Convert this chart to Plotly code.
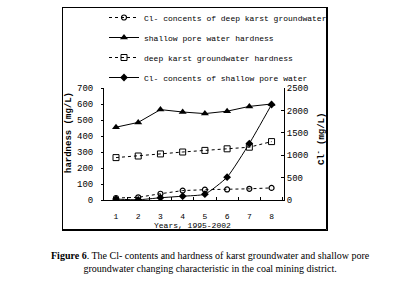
import plotly.graph_objects as go

years = ["1", "2", "3", "4", "5", "6", "7", "8"]
cl_deep_karst = [45, 60, 140, 210, 230, 235, 250, 270]
hardness_shallow_pore = [455, 485, 565, 550, 540, 555, 585, 600]
hardness_deep_karst = [265, 275, 288, 300, 310, 320, 330, 365]
cl_shallow_pore = [20, 5, 50, 85, 130, 510, 1260, 2130]

MONO = "Liberation Mono"
W, H = 394, 290
L, R, T, B = 104, 110, 88, 90
pw, ph = W - L - R, H - T - B

def px_x(x):
    return (x - L) / pw

def px_y(y):
    return (H - B - y) / ph

fig = go.Figure()
fig.add_trace(go.Scatter(
    x=years, y=cl_deep_karst, yaxis="y2", mode="lines+markers",
    name="Cl- concents of deep karst groundwater", legendgroup="a",
    line=dict(color="black", width=1, dash="dot"),
    marker=dict(symbol="circle-open", size=5, color="black", line=dict(width=1.2))))
fig.add_trace(go.Scatter(
    x=years, y=hardness_shallow_pore, mode="lines+markers",
    name="shallow pore water hardness", legendgroup="b",
    line=dict(color="black", width=1),
    marker=dict(symbol="triangle-up", size=7, color="black")))
fig.add_trace(go.Scatter(
    x=years, y=hardness_deep_karst, mode="lines+markers",
    name="deep karst groundwater hardness", legendgroup="c",
    line=dict(color="black", width=1, dash="dot"),
    marker=dict(symbol="square-open", size=6, color="black", line=dict(width=1))))
fig.add_trace(go.Scatter(
    x=years, y=cl_shallow_pore, yaxis="y2", mode="lines+markers",
    name="Cl- concents of shallow pore water", legendgroup="d",
    line=dict(color="black", width=1, shape="spline", smoothing=0.5),
    marker=dict(symbol="diamond", size=6, color="black")))

fig.update_layout(
    width=W, height=H,
    margin=dict(l=L, r=R, t=T, b=B, pad=0, autoexpand=False),
    paper_bgcolor="white", plot_bgcolor="white",
    font=dict(family=MONO, size=8, color="black"),
    showlegend=True,
    legend=dict(x=px_x(104), y=1 - 3 / H, yref="container", xanchor="left", yanchor="top",
                bgcolor="rgba(0,0,0,0)", font=dict(family=MONO, size=8),
                tracegroupgap=1, itemwidth=30),
    xaxis=dict(type="category", range=[-0.54, 7.56], showline=True,
               linecolor="black", linewidth=1, ticks="inside", ticklen=3,
               tickson="boundaries", tickcolor="black", showgrid=False,
               zeroline=False, ticklabelstandoff=8, automargin=False,
               tickfont=dict(family=MONO, size=8)),
    yaxis=dict(range=[0, 700], dtick=100, showline=True, linecolor="black",
               linewidth=1, ticks="outside", ticklen=2, tickcolor="black",
               showgrid=False, zeroline=False, ticklabelstandoff=6, automargin=False,
               tickfont=dict(family=MONO, size=9)),
    yaxis2=dict(range=[0, 2500], dtick=500, overlaying="y", side="right",
                showline=True, linecolor="black", linewidth=1, ticks="inside",
                ticklen=3, tickcolor="black", showgrid=False, zeroline=False,
                automargin=False, tickfont=dict(family=MONO, size=9)),
    shapes=[dict(type="rect", xref="paper", yref="paper", layer="above",
                 x0=px_x(62.5), x1=px_x(326.5), y0=px_y(229.5), y1=px_y(7.5),
                 line=dict(color="black", width=1), fillcolor="rgba(0,0,0,0)")],
    annotations=[
        dict(text="<b>hardness (mg/L)</b>", textangle=-90, xref="paper", yref="paper",
             x=px_x(69), y=px_y(133), showarrow=False, xanchor="center", yanchor="middle",
             font=dict(family=MONO, size=9)),
        dict(text="<b>Cl<sup>-</sup> (mg/L)</b>", textangle=-90, xref="paper", yref="paper",
             x=px_x(321), y=px_y(139), showarrow=False, xanchor="center", yanchor="middle",
             font=dict(family=MONO, size=9)),
        dict(text="Years, 1995-2002", xref="paper", yref="paper",
             x=px_x(192), y=px_y(225), showarrow=False, xanchor="center", yanchor="middle",
             font=dict(family=MONO, size=8)),
        dict(text="<b>Figure 6</b>. The Cl- contents and hardness of karst groundwater and shallow pore<br>groundwater changing characteristic in the coal mining district.",
             xref="paper", yref="paper", x=px_x(210), y=px_y(262), showarrow=False,
             xanchor="center", yanchor="middle",
             align="center", font=dict(family="Liberation Serif", size=10)),
    ],
)

frame_js = (
    "document.body.style.margin='0';document.body.style.padding='0';"
    "var f=document.createElement('div');"
    "f.style.cssText='position:absolute;left:62px;top:7px;width:264px;height:222px;"
    "border:1px solid black;pointer-events:none;box-sizing:content-box;';"
    "document.body.appendChild(f);"
)

fig.write_html("out.html", config={"displayModeBar": False}, post_script=frame_js)
